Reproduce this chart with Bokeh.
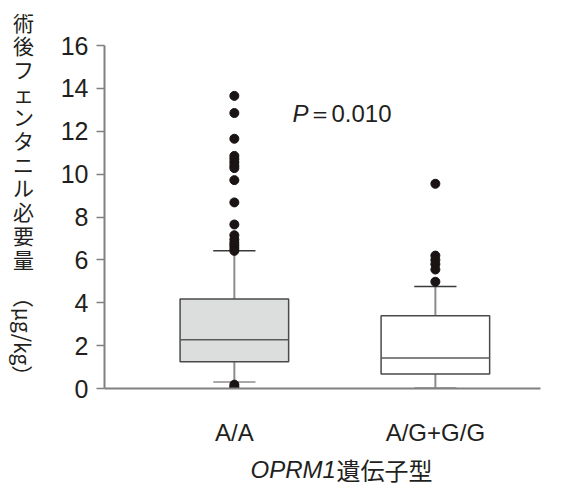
from bokeh.plotting import figure
from bokeh.models import Label, FixedTicker, Range1d
from bokeh.embed import file_html
from bokeh.resources import INLINE

# ---- data ----
categories = ["A/A", "A/G+G/G"]
q1 = [1.25, 0.68]
median = [2.27, 1.42]
q3 = [4.18, 3.39]
whisker_low = [0.30, 0.02]
whisker_high = [6.42, 4.76]
box_fill = ["#dcdddd", "#ffffff"]
outliers_aa = [13.65, 12.85, 11.65, 10.85, 10.7, 10.55, 10.4, 10.28, 9.72, 8.68,
               7.65, 7.15, 6.95, 6.8, 6.68, 6.55, 6.42, 0.18, 0.08, 0.0]
outliers_ag = [9.55, 6.2, 6.0, 5.8, 5.55, 4.98]
y_ticks = [0, 2, 4, 6, 8, 10, 12, 14, 16]
y_title_main = "術後フェンタニル必要量"
y_title_unit = "（μg/kg）"
x_title_gene = "OPRM1"
x_title_rest = "遺伝子型"
p_label = "P"
p_text = "＝0.010"

xs = [i + 1 for i in range(len(categories))]
box_w = 0.54
cap_w = 0.21

p = figure(width=560, height=488, output_backend="svg", toolbar_location=None,
           x_range=Range1d(0.354, 2.523), y_range=Range1d(0, 16),
           min_border_left=104, min_border_right=20, min_border_top=45, min_border_bottom=100,
           frame_width=436, frame_height=343)
p.background_fill_color = "white"
p.border_fill_color = "white"
p.outline_line_color = None
p.grid.visible = False

# whiskers
p.segment(x0=xs, y0=q3, x1=xs, y1=whisker_high, line_color="#8c8c8c", line_width=2)
p.segment(x0=xs, y0=whisker_low, x1=xs, y1=q1, line_color="#8c8c8c", line_width=2)
# caps
p.segment(x0=[x - cap_w / 2 for x in xs], y0=whisker_high, x1=[x + cap_w / 2 for x in xs],
          y1=whisker_high, line_color="#3a3a3a", line_width=1.5)
p.segment(x0=[x - cap_w / 2 for x in xs], y0=whisker_low, x1=[x + cap_w / 2 for x in xs],
          y1=whisker_low, line_color="#8c8c8c", line_width=1.5)
# boxes
p.vbar(x=xs, width=box_w, bottom=q1, top=q3, fill_color=box_fill,
       line_color="#4a4a4a", line_width=1.5)
p.segment(x0=[x - box_w / 2 for x in xs], y0=median, x1=[x + box_w / 2 for x in xs],
          y1=median, line_color="#5a5a5a", line_width=1.5)
# outliers
p.scatter(x=[xs[0]] * len(outliers_aa), y=outliers_aa, size=9, color="#1a1414")
p.scatter(x=[xs[1]] * len(outliers_ag), y=outliers_ag, size=9, color="#1a1414")

# axes
p.yaxis.ticker = FixedTicker(ticks=y_ticks)
p.yaxis.axis_line_color = "#808080"
p.yaxis.axis_line_width = 2
p.yaxis.major_tick_line_color = "#808080"
p.yaxis.major_tick_line_width = 1.5
p.yaxis.major_tick_out = 8
p.yaxis.major_tick_in = 0
p.yaxis.minor_tick_line_color = None
p.yaxis.major_label_text_font = "Liberation Sans"
p.yaxis.major_label_text_font_size = "25px"
p.yaxis.major_label_text_color = "#231f20"
p.yaxis.major_label_standoff = 8

p.xaxis.ticker = FixedTicker(ticks=xs)
p.xaxis.major_label_overrides = {x: c for x, c in zip(xs, categories)}
p.xaxis.axis_line_color = "#808080"
p.xaxis.axis_line_width = 2
p.xaxis.major_tick_line_color = None
p.xaxis.minor_tick_line_color = None
p.xaxis.major_label_text_font = "Liberation Sans"
p.xaxis.major_label_text_font_size = "24px"
p.xaxis.major_label_text_color = "#231f20"
p.xaxis.major_label_standoff = 24

txt = dict(x_units="canvas", y_units="canvas", text_color="#231f20")

# y axis title: upright characters stacked top to bottom (one multi-line text)
p.add_layout(Label(x=23, y=6, text="\n".join(y_title_main),
                   text_font="Noto Sans CJK JP", text_font_size="21px",
                   text_line_height=0.79, text_align="center", text_baseline="top",
                   **txt), "left")
# unit part, rotated clockwise
p.add_layout(Label(x=23, y=336, text=y_title_unit, angle=-1.5708,
                   text_font="Noto Sans CJK JP", text_font_size="21px",
                   text_align="center", text_baseline="middle", **txt), "left")

# P value
p.add_layout(Label(x=292, y=113, text=p_label, text_font="Liberation Sans",
                   text_font_style="italic", text_font_size="24px",
                   text_baseline="middle", **txt))
p.add_layout(Label(x=307, y=113, text=p_text, text_font="Liberation Sans",
                   text_font_size="24px", text_baseline="middle", **txt))

# x axis title
p.add_layout(Label(x=250, y=469, text=x_title_gene, text_font="Liberation Sans",
                   text_font_style="italic", text_font_size="24px",
                   text_baseline="middle", **txt), "below")
p.add_layout(Label(x=336, y=469, text=x_title_rest, text_font="Noto Sans CJK JP",
                   text_font_size="24px", text_baseline="middle", **txt), "above")

open("out.html", "w").write(file_html(p, INLINE))
